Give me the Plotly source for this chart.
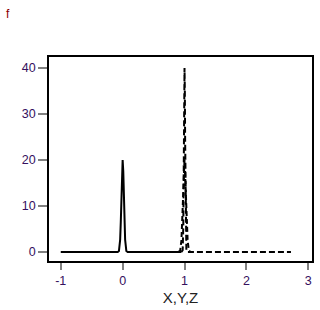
import plotly.graph_objects as go

# Density curves (x, density)
x_X = [-1.0, -0.08, -0.06, -0.04, -0.03, -0.02, -0.01, 0.0, 0.01, 0.02, 0.03, 0.04, 0.06, 0.08, 0.95]
d_X = [0.0, 0.0, 0.2, 2.7, 6.5, 12.1, 17.6, 20.0, 17.6, 12.1, 6.5, 2.7, 0.2, 0.0, 0.0]

x_Y = [0.9, 0.93, 0.95, 0.97, 0.985, 1.0, 1.015, 1.03, 1.05, 1.07, 1.1]
d_Y = [0.0, 0.3, 2.5, 8.5, 15.0, 20.0, 15.0, 8.5, 2.5, 0.3, 0.0]

x_Z = [0.95, 0.97, 0.98, 0.99, 0.995, 1.0, 1.005, 1.01, 1.02, 1.03, 1.05, 2.72]
d_Z = [0.0, 0.4, 5.4, 24.3, 35.3, 40.0, 35.3, 24.3, 5.4, 0.4, 0.0, 0.0]

x_ticks = [-1, 0, 1, 2, 3]
x_ticklabels = ["-1", "0", "1", "2", "3"]
y_ticks = [0, 10, 20, 30, 40]

fig = go.Figure()
fig.add_trace(go.Scatter(x=x_X, y=d_X, mode="lines", name="X",
                         line=dict(color="black", width=2, dash="solid")))
fig.add_trace(go.Scatter(x=x_Y, y=d_Y, mode="lines", name="Y",
                         line=dict(color="black", width=2, dash="5px,3px")))
fig.add_trace(go.Scatter(x=x_Z, y=d_Z, mode="lines", name="Z",
                         line=dict(color="black", width=2, dash="6px,3px")))

FONT = "Liberation Sans, Arial, sans-serif"
tickfont = dict(family=FONT, size=12.5, color="#35105e")

fig.update_layout(
    width=320, height=310, autosize=False,
    margin=dict(l=49, r=6, t=57, b=49),
    paper_bgcolor="white", plot_bgcolor="white",
    showlegend=False,
    font=dict(family=FONT),
    xaxis=dict(range=[-1.19, 3.06], tickvals=x_ticks, ticktext=x_ticklabels,
               ticks="outside", ticklen=7,
               tickcolor="#808080", tickwidth=2, showline=True, linecolor="black",
               linewidth=1.5, mirror=True, showgrid=False, zeroline=False,
               tickfont=tickfont,
               title=dict(text="X,Y,Z", font=dict(size=15, color="#222222"), standoff=6)),
    yaxis=dict(range=[-1.96, 42.4], tickvals=y_ticks, ticks="outside", ticklen=9,
               tickcolor="#808080", tickwidth=2, showline=True, linecolor="black",
               linewidth=1.5, mirror=True, showgrid=False, zeroline=False,
               tickfont=tickfont),
)
fig.add_annotation(text="f", xref="paper", yref="paper", x=-45 / 265, y=1 + 52 / 204,
                   xanchor="left", yanchor="top", showarrow=False,
                   font=dict(size=12, color="#8b0000", family=FONT))

fig.write_html("out.html",
               config={"displayModeBar": False},
               post_script="document.body.style.margin='0';document.body.style.overflow='hidden';")
